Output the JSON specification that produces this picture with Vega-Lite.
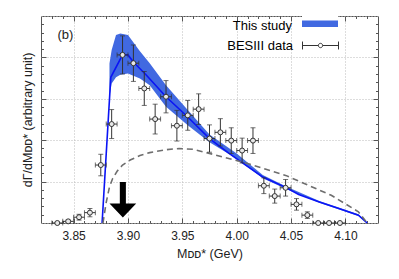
{
  "$schema": "https://vega.github.io/schema/vega-lite/v6.json",
  "width": 337,
  "height": 207,
  "autosize": {"type": "none"},
  "padding": {"left": 41, "top": 16, "right": 21, "bottom": 56},
  "background": "white",
  "config": {
    "font": "Liberation Sans",
    "view": {"stroke": "#555", "strokeWidth": 1},
    "axis": {"domainColor": "#555", "tickColor": "#555", "gridColor": "#bbb", "gridDash": [1, 2], "labelFontSize": 12, "labelColor": "#222", "titleFontSize": 12.5, "titleFontWeight": "normal", "titleColor": "#222", "labelFont": "Liberation Sans", "titleFont": "Liberation Sans"}
  },
  "datasets": {
    "pts": [
      {"x": 3.835, "y": 0.0, "ey": 0.01, "ex": 0.005},
      {"x": 3.845, "y": 0.04, "ey": 0.03, "ex": 0.005},
      {"x": 3.855, "y": 0.14, "ey": 0.07, "ex": 0.005},
      {"x": 3.865, "y": 0.25, "ey": 0.1, "ex": 0.005},
      {"x": 3.875, "y": 1.4, "ey": 0.26, "ex": 0.005},
      {"x": 3.885, "y": 2.39, "ey": 0.35, "ex": 0.005},
      {"x": 3.895, "y": 4.06, "ey": 0.46, "ex": 0.005},
      {"x": 3.905, "y": 3.86, "ey": 0.44, "ex": 0.005},
      {"x": 3.915, "y": 3.25, "ey": 0.41, "ex": 0.005},
      {"x": 3.925, "y": 2.51, "ey": 0.36, "ex": 0.005},
      {"x": 3.935, "y": 3.05, "ey": 0.39, "ex": 0.005},
      {"x": 3.945, "y": 2.35, "ey": 0.37, "ex": 0.005},
      {"x": 3.955, "y": 2.6, "ey": 0.36, "ex": 0.005},
      {"x": 3.965, "y": 2.75, "ey": 0.37, "ex": 0.005},
      {"x": 3.975, "y": 2.04, "ey": 0.33, "ex": 0.005},
      {"x": 3.985, "y": 2.19, "ey": 0.33, "ex": 0.005},
      {"x": 3.995, "y": 1.99, "ey": 0.31, "ex": 0.005},
      {"x": 4.005, "y": 1.75, "ey": 0.3, "ex": 0.005},
      {"x": 4.015, "y": 1.99, "ey": 0.31, "ex": 0.005},
      {"x": 4.025, "y": 0.9, "ey": 0.19, "ex": 0.005},
      {"x": 4.035, "y": 0.65, "ey": 0.17, "ex": 0.005},
      {"x": 4.045, "y": 0.85, "ey": 0.2, "ex": 0.005},
      {"x": 4.055, "y": 0.45, "ey": 0.14, "ex": 0.005},
      {"x": 4.065, "y": 0.19, "ey": 0.08, "ex": 0.005},
      {"x": 4.075, "y": 0.0, "ey": 0.01, "ex": 0.005},
      {"x": 4.085, "y": 0.0, "ey": 0.01, "ex": 0.005},
      {"x": 4.095, "y": 0.0, "ey": 0.01, "ex": 0.005}
    ],
    "band": [
      {"x": 3.883, "lo": 3.05, "hi": 3.85},
      {"x": 3.885, "lo": 3.37, "hi": 4.18},
      {"x": 3.889, "lo": 3.52, "hi": 4.54},
      {"x": 3.893, "lo": 3.58, "hi": 4.58},
      {"x": 3.9, "lo": 3.61, "hi": 4.54},
      {"x": 3.911, "lo": 3.49, "hi": 4.15},
      {"x": 3.92, "lo": 3.33, "hi": 3.86},
      {"x": 3.935, "lo": 2.81, "hi": 3.33},
      {"x": 3.955, "lo": 2.36, "hi": 2.73},
      {"x": 3.975, "lo": 1.95, "hi": 2.14},
      {"x": 4.0, "lo": 1.55, "hi": 1.68},
      {"x": 4.024, "lo": 1.08, "hi": 1.16},
      {"x": 4.045, "lo": 0.83, "hi": 0.89},
      {"x": 4.076, "lo": 0.49, "hi": 0.53},
      {"x": 4.112, "lo": 0.17, "hi": 0.21},
      {"x": 4.12, "lo": 0.0, "hi": 0.01}
    ],
    "line": [
      {"x": 3.8762, "y": 0.0},
      {"x": 3.8842, "y": 3.52},
      {"x": 3.895, "y": 4.06},
      {"x": 3.9, "y": 4.06},
      {"x": 3.905, "y": 3.89},
      {"x": 3.917, "y": 3.57},
      {"x": 3.935, "y": 3.05},
      {"x": 3.955, "y": 2.56},
      {"x": 3.975, "y": 2.04},
      {"x": 3.993, "y": 1.68},
      {"x": 4.004, "y": 1.475},
      {"x": 4.024, "y": 1.11},
      {"x": 4.045, "y": 0.86},
      {"x": 4.057, "y": 0.69},
      {"x": 4.076, "y": 0.51},
      {"x": 4.094, "y": 0.35},
      {"x": 4.112, "y": 0.19},
      {"x": 4.12, "y": 0.0}
    ],
    "dash": [
      {"x": 3.877, "y": 0.0},
      {"x": 3.88, "y": 0.5},
      {"x": 3.883, "y": 0.87},
      {"x": 3.886, "y": 1.08},
      {"x": 3.89, "y": 1.25},
      {"x": 3.895, "y": 1.4},
      {"x": 3.902, "y": 1.52},
      {"x": 3.911, "y": 1.63},
      {"x": 3.92, "y": 1.7},
      {"x": 3.935, "y": 1.77},
      {"x": 3.947, "y": 1.8},
      {"x": 3.96, "y": 1.78},
      {"x": 3.978, "y": 1.66},
      {"x": 4.007, "y": 1.46},
      {"x": 4.045, "y": 1.15},
      {"x": 4.087, "y": 0.67},
      {"x": 4.112, "y": 0.27},
      {"x": 4.12, "y": 0.0}
    ]
  },
  "layer": [
    {
      "layer": [
        {
          "data": {"name": "band"},
          "mark": {"type": "area", "opacity": 1},
          "encoding": {
            "x": {"field": "x", "type": "quantitative", "scale": {"domain": [3.82, 4.13], "nice": false, "zero": false}, "axis": null},
            "y": {"field": "lo", "type": "quantitative", "scale": {"domain": [0, 5], "nice": false, "zero": false}, "axis": null},
            "y2": {"field": "hi"},
            "fill": {"datum": "This study", "scale": {"range": ["#4169e1"]},
              "legend": {"orient": "none", "legendX": 261, "legendY": -8, "title": null, "symbolType": "M-1,-0.3H1V0.3H-1Z", "symbolSize": 1296, "symbolStrokeWidth": 0, "labelAlign": "right", "labelOffset": -46, "labelFontSize": 13, "labelColor": "black", "padding": 0, "fillColor": "white"}}
          }
        },
        {
          "data": {"name": "line"},
          "mark": {"type": "line", "color": "#0a14f5", "strokeWidth": 1.6},
          "encoding": {"x": {"field": "x", "type": "quantitative", "axis": null}, "y": {"field": "y", "type": "quantitative", "axis": null}}
        },
        {
          "data": {"name": "dash"},
          "mark": {"type": "line", "color": "#6e6e6e", "strokeWidth": 1.6, "strokeDash": [6, 4]},
          "encoding": {"x": {"field": "x", "type": "quantitative", "axis": null}, "y": {"field": "y", "type": "quantitative", "axis": null}}
        },
        {
          "data": {"name": "pts"},
          "mark": {"type": "errorbar", "ticks": {"size": 5}, "color": "#333"},
          "encoding": {"x": {"field": "x", "type": "quantitative", "axis": null}, "y": {"field": "y", "type": "quantitative", "axis": null}, "yError": {"field": "ey"}}
        },
        {
          "data": {"name": "pts"},
          "mark": {"type": "errorbar", "ticks": {"size": 5}, "color": "#333"},
          "encoding": {"x": {"field": "x", "type": "quantitative", "axis": null}, "y": {"field": "y", "type": "quantitative", "axis": null}, "xError": {"field": "ex"}}
        },
        {
          "data": {"name": "pts"},
          "mark": {"type": "point", "shape": "circle", "size": 25, "filled": false, "stroke": "#333", "fill": "#e8e8e8", "fillOpacity": 1, "strokeWidth": 1, "opacity": 1},
          "encoding": {"x": {"field": "x", "type": "quantitative", "axis": null}, "y": {"field": "y", "type": "quantitative", "axis": null}}
        },
        {
          "data": {"values": [{"what": "threshold"}]},
          "mark": {"type": "point", "shape": "M-0.17,-1L0.17,-1L0.17,0.21L0.75,0.21L0,1L-0.75,0.21L-0.17,0.21Z", "size": 1267, "filled": true, "color": "black", "opacity": 1},
          "encoding": {"x": {"datum": 3.8953, "type": "quantitative", "axis": null}, "y": {"datum": 0.56, "type": "quantitative", "axis": null}}
        },
        {
          "data": {"values": [{"what": "panel"}]},
          "mark": {"type": "text", "text": "(b)", "fontSize": 13, "font": "Liberation Sans", "color": "#222"},
          "encoding": {"x": {"datum": 3.8425, "type": "quantitative", "axis": null}, "y": {"datum": 4.55, "type": "quantitative", "axis": null}}
        }
      ]
    },
    {
      "data": {"name": "pts"},
      "mark": {"type": "point", "opacity": 0},
      "encoding": {
        "x": {"field": "x", "type": "quantitative",
          "axis": {"orient": "bottom", "title": "Mᴅᴅ* (GeV)", "values": [3.85, 3.9, 3.95, 4.0, 4.05, 4.1], "format": ".2f", "ticks": false, "domain": false, "grid": true,
            "labelPadding": 7, "titlePadding": 6, "labelFlush": false, "labelOverlap": false}},
        "y": {"field": "y", "type": "quantitative",
          "axis": {"orient": "left", "title": "dΓ/dMᴅᴅ* (arbitrary unit)", "values": [0, 1, 2, 3, 4, 5], "labels": false, "ticks": false, "domain": false, "grid": true, "titlePadding": 7}},
        "shape": {"datum": "BESIII data", "scale": {"range": ["M-1,0H-0.12M0.12,0H1M-1,-0.22V0.22M1,-0.22V0.22M-0.12,0A0.12,0.12 0 1,0 0.12,0A0.12,0.12 0 1,0 -0.12,0Z"]},
          "legend": {"orient": "none", "legendX": 261, "legendY": 11, "title": null, "symbolSize": 1296, "symbolStrokeColor": "#333", "symbolFillColor": "#e8e8e8", "symbolStrokeWidth": 1, "symbolOpacity": 1, "labelAlign": "right", "labelOffset": -46, "labelFontSize": 13, "labelColor": "black", "padding": 0, "fillColor": "white"}}
      }
    },
    {
      "data": {"name": "pts"},
      "mark": {"type": "point", "opacity": 0},
      "encoding": {
        "x": {"field": "x", "type": "quantitative",
          "axis": {"orient": "top", "offset": -207, "title": null, "labels": false, "grid": false, "domain": false, "tickSize": 5, "values": [3.85, 3.9, 3.95, 4.0, 4.05, 4.1]}},
        "y": {"field": "y", "type": "quantitative",
          "axis": {"orient": "right", "offset": -337, "title": null, "labels": false, "grid": false, "domain": false, "tickSize": 5, "values": [1, 2, 3, 4]}}
      }
    },
    {
      "data": {"name": "pts"},
      "mark": {"type": "point", "opacity": 0},
      "encoding": {
        "x": {"field": "x", "type": "quantitative",
          "axis": {"orient": "top", "offset": -207, "title": null, "labels": false, "grid": false, "domain": false, "tickSize": 2.5, "values": [3.83,3.84,3.86,3.87,3.88,3.89,3.91,3.92,3.93,3.94,3.96,3.97,3.98,3.99,4.01,4.02,4.03,4.04,4.06,4.07,4.08,4.09,4.11,4.12]}},
        "y": {"field": "y", "type": "quantitative",
          "axis": {"orient": "right", "offset": -337, "title": null, "labels": false, "grid": false, "domain": false, "tickSize": 2.5, "values": [0.2,0.4,0.6,0.8,1.2,1.4,1.6,1.8,2.2,2.4,2.6,2.8,3.2,3.4,3.6,3.8,4.2,4.4,4.6,4.8]}}
      }
    },
    {
      "data": {"name": "pts"},
      "mark": {"type": "point", "opacity": 0},
      "encoding": {
        "x": {"field": "x", "type": "quantitative",
          "axis": {"orient": "bottom", "offset": -207, "title": null, "labels": false, "grid": false, "domain": false, "tickSize": 5, "values": [3.85, 3.9, 3.95, 4.0, 4.05, 4.1]}},
        "y": {"field": "y", "type": "quantitative",
          "axis": {"orient": "left", "offset": -337, "title": null, "labels": false, "grid": false, "domain": false, "tickSize": 5, "values": [1, 2, 3, 4]}}
      }
    },
    {
      "data": {"name": "pts"},
      "mark": {"type": "point", "opacity": 0},
      "encoding": {
        "x": {"field": "x", "type": "quantitative",
          "axis": {"orient": "bottom", "offset": -207, "title": null, "labels": false, "grid": false, "domain": false, "tickSize": 2.5, "values": [3.83,3.84,3.86,3.87,3.88,3.89,3.91,3.92,3.93,3.94,3.96,3.97,3.98,3.99,4.01,4.02,4.03,4.04,4.06,4.07,4.08,4.09,4.11,4.12]}},
        "y": {"field": "y", "type": "quantitative",
          "axis": {"orient": "left", "offset": -337, "title": null, "labels": false, "grid": false, "domain": false, "tickSize": 2.5, "values": [0.2,0.4,0.6,0.8,1.2,1.4,1.6,1.8,2.2,2.4,2.6,2.8,3.2,3.4,3.6,3.8,4.2,4.4,4.6,4.8]}}
      }
    }
  ],
  "resolve": {"axis": {"x": "independent", "y": "independent"}}
}
